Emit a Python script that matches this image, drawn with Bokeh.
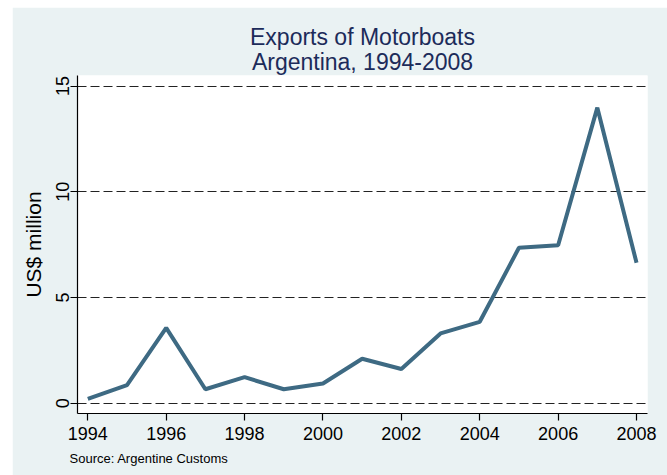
from bokeh.plotting import figure
from bokeh.models import Range1d, FixedTicker, Title, Spacer
from bokeh.layouts import column, row
from bokeh.embed import file_html
from bokeh.resources import INLINE

# ---- data ----
years = list(range(1994, 2009))
exports = [0.20, 0.85, 3.56, 0.66, 1.23, 0.66, 0.93, 2.10, 1.62, 3.30,
           3.85, 7.35, 7.47, 13.98, 6.64]
x_ticks = [1994, 1996, 1998, 2000, 2002, 2004, 2006, 2008]
y_ticks = [0, 5, 10, 15]
title_lines = ["Exports of Motorboats", "Argentina, 1994-2008"]
y_label = "US$ million"
source_note = "Source: Argentine Customs"

FONT = "Liberation Sans"
BG = "#eaf2f3"

p = figure(width=655, height=468, output_backend="svg", toolbar_location=None,
           x_range=Range1d(1993.737, 2008.28), y_range=Range1d(-0.487, 15.5),
           min_border_left=65, min_border_right=20,
           min_border_top=68, min_border_bottom=62)

p.border_fill_color = BG
p.background_fill_color = "white"
p.outline_line_color = None

p.line(years, exports, line_color="#3e6a83", line_width=4)

# axes
for ax in (p.xaxis[0], p.yaxis[0]):
    ax.axis_line_color = "black"
    ax.axis_line_width = 1.2
    ax.major_tick_line_color = "black"
    ax.major_tick_line_width = 1.2
    ax.major_tick_out = 7
    ax.major_tick_in = 0
    ax.minor_tick_line_color = None
    ax.major_label_text_font = FONT
    ax.major_label_text_font_size = "18px"
    ax.major_label_text_color = "black"

p.xaxis.ticker = FixedTicker(ticks=x_ticks)
p.yaxis.ticker = FixedTicker(ticks=y_ticks)
p.xaxis.major_label_standoff = 6
p.yaxis.major_label_standoff = 1
p.yaxis.major_label_orientation = "vertical"
p.yaxis.axis_label = y_label
p.yaxis.axis_label_text_font = FONT
p.yaxis.axis_label_text_font_size = "21px"
p.yaxis.axis_label_text_font_style = "normal"
p.yaxis.axis_label_text_color = "black"
p.yaxis.axis_label_standoff = 9

# grid
p.xgrid.visible = False
p.ygrid.grid_line_color = "#222222"
p.ygrid.grid_line_width = 1.1
p.ygrid.grid_line_dash = "9 4"

# source note (below the x axis)
p.add_layout(Title(text=source_note, align="left", offset=-8,
                   text_font=FONT, text_font_size="13px",
                   text_font_style="normal", text_color="black",
                   standoff=12), "below")

# two-line title (added nearest-first)
p.add_layout(Title(text=title_lines[1], align="center", offset=2,
                   text_font=FONT, text_font_size="23px",
                   text_font_style="normal", text_color="#1c2b5a",
                   standoff=2), "above")
p.add_layout(Title(text=title_lines[0], align="center", offset=2,
                   text_font=FONT, text_font_size="23px",
                   text_font_style="normal", text_color="#1c2b5a",
                   standoff=-9), "above")

layout = column(Spacer(width=667, height=7),
                row(Spacer(width=12, height=468), p))

open("out.html", "w").write(file_html(layout, INLINE))
